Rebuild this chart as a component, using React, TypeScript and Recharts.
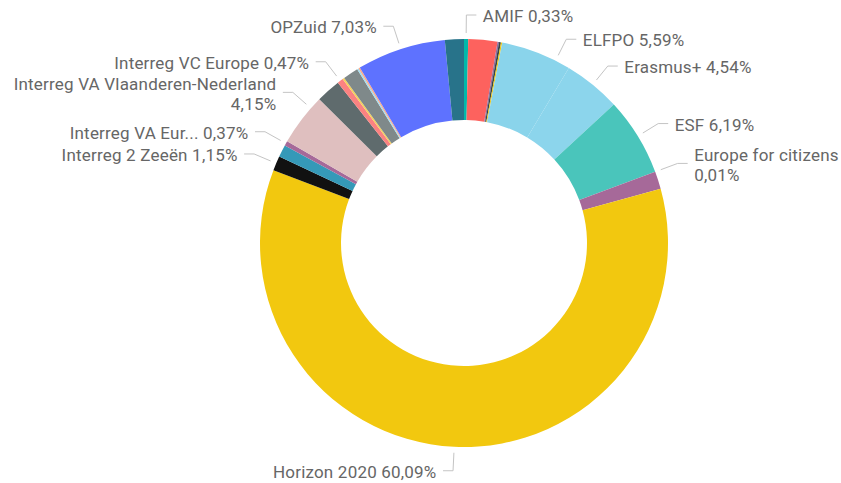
import React from 'react';
import { Cell, Pie, PieChart } from 'recharts';

// Share of budget per programme (%), clockwise from 12 o'clock, alphabetical like the source
const programmes = [
  'AMIF',
  'CEF',
  'COSME',
  'Creative Europe',
  'EaSI',
  'ELFPO',
  'Erasmus+',
  'ESF',
  'Europe for citizens',
  'EFRO',
  'Horizon 2020',
  'Interreg 2 Zeeën',
  'Interreg North Sea Region',
  'Interreg VA Eur...',
  'Interreg VA Vlaanderen-Nederland',
  'Interreg VB Noordwest-Europa',
  'Interreg VC Europe',
  'LIFE',
  'OP Vlaanderen',
  'OP Wallonië',
  'OPZeeland',
  'OPZuid',
  'Overige',
];

const shares = [
  0.33, 2.3, 0.12, 0.15, 0.1, 5.59, 4.54, 6.19, 0.01, 1.39, 60.09, 1.15, 0.97, 0.37, 4.15, 1.94,
  0.47, 0.15, 1.22, 0.12, 0.12, 7.03, 1.5,
];

const colors = [
  '#01B8AA', '#FD625E', '#8E6C9E', '#374649', '#F2C80F', '#8AD4EB', '#8CD5EC', '#4AC5BB',
  '#B687AC', '#A66999', '#F2C80F', '#111111', '#3599B8', '#A66999', '#DFBFBF', '#5F6B6D',
  '#FB8281', '#F4D25A', '#7F898A', '#A4DDEE', '#FDAB89', '#5E72FF', '#28738A',
];

// slices that get a data label in the original
const labelled = [
  'AMIF', 'ELFPO', 'Erasmus+', 'ESF', 'Europe for citizens', 'Horizon 2020', 'Interreg 2 Zeeën',
  'Interreg VA Eur...', 'Interreg VA Vlaanderen-Nederland', 'Interreg VC Europe', 'OPZuid',
];
const twoLine = ['Europe for citizens', 'Interreg VA Vlaanderen-Nederland'];
// leader nudges (degrees, clockwise) where the labels were pushed apart
const nudge: Record<string, number> = { ELFPO: 5.8, 'Interreg VA Vlaanderen-Nederland': 4 };

const data = programmes.map((name, i) => ({ name, value: shares[i] }));
const total = shares.reduce((a, b) => a + b, 0);

const RAD = Math.PI / 180;
const fmt = (v: number) => `${((v / total) * 100).toFixed(2).replace('.', ',')}%`;

const renderLabel = (props: any) => {
  const { cx, cy, midAngle, outerRadius, name, value } = props;
  if (!labelled.includes(name)) return null;
  const angle = midAngle - (nudge[name] || 0);
  const pt = (r: number) => ({
    x: cx + Math.cos(-angle * RAD) * r,
    y: cy + Math.sin(-angle * RAD) * r,
  });
  const start = pt(outerRadius + 6);
  const elbow = pt(outerRadius + 24);
  const right = Math.cos(angle * RAD) >= 0;
  const dir = right ? 1 : -1;
  const endX = elbow.x + dir * 10;
  const textX = endX + dir * 6.5;
  const anchor = right ? 'start' : 'end';
  const textStyle = {
    fontFamily: 'Roboto, sans-serif',
    fontSize: 17,
    letterSpacing: 0.2,
    fill: '#666666',
  };

  return (
    <g key={`lbl-${name}`}>
      <polyline
        points={`${start.x},${start.y} ${elbow.x},${elbow.y} ${endX},${elbow.y}`}
        fill="none"
        stroke="#C4C4C4"
        strokeWidth={1}
      />
      {twoLine.includes(name) ? (
        <text x={textX} y={elbow.y + 1} textAnchor={anchor} style={textStyle}>
          <tspan x={textX} dy="-0.2em">{name}</tspan>
          <tspan x={textX} dy="1.2em">{fmt(value)}</tspan>
        </text>
      ) : (
        <text x={textX} y={elbow.y + 1} dy="0.35em" textAnchor={anchor} style={textStyle}>
          {`${name} ${fmt(value)}`}
        </text>
      )}
    </g>
  );
};

const App: React.FC = () => {
  return (
    <div style={{ width: 841, height: 483, background: '#fff' }}>
      <style>{'body { margin: 0; }'}</style>
      <PieChart width={841} height={483} margin={{ top: 0, right: 0, bottom: 0, left: 0 }}>
        <Pie
          data={data}
          dataKey="value"
          nameKey="name"
          cx={464}
          cy={243}
          innerRadius={123}
          outerRadius={204}
          startAngle={90}
          endAngle={-270}
          stroke="none"
          label={renderLabel}
          labelLine={false}
          isAnimationActive={false}
        >
          {data.map((entry, index) => (
            <Cell key={`cell-${index}`} fill={colors[index]} />
          ))}
        </Pie>
      </PieChart>
    </div>
  );
};

export default App;
